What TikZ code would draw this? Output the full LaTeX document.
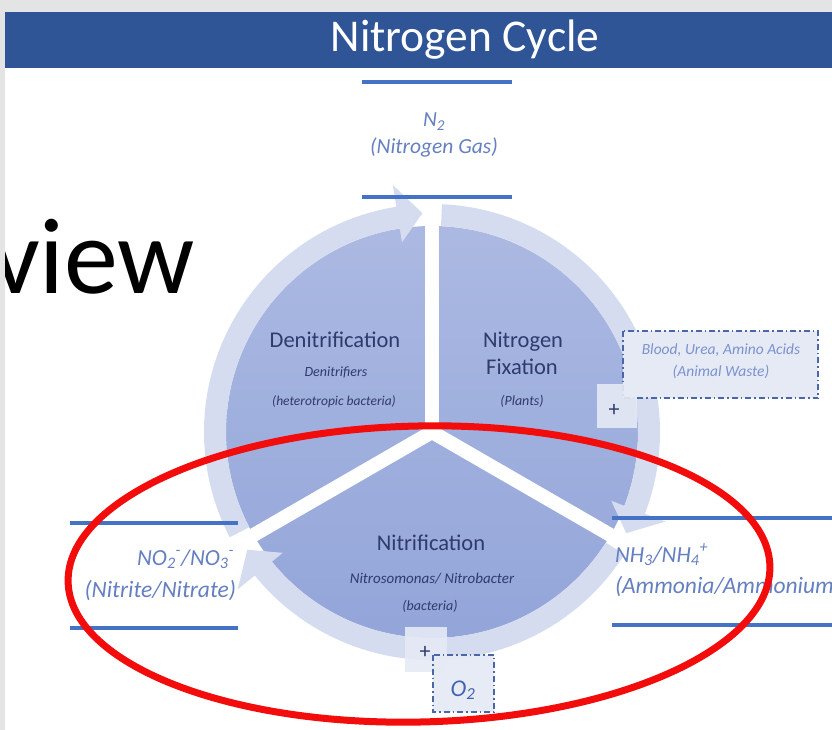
\documentclass[tikz,border=0pt]{standalone}
\usepackage{fontspec}
\setmainfont{Carlito}
\usetikzlibrary{calc}
\definecolor{titleblue}{HTML}{2F5597}
\definecolor{bggray}{HTML}{E4E4E4}
\definecolor{linecol}{HTML}{4472C4}
\definecolor{labelcol}{HTML}{6580C0}
\definecolor{pietext}{HTML}{2E3B6B}
\definecolor{pietop}{HTML}{ABB9E2}
\definecolor{piebot}{HTML}{93A5D9}
\definecolor{ringcol}{HTML}{D5DCF0}
\definecolor{boxfill}{HTML}{E6EAF5}
\definecolor{boxline}{HTML}{4A66A8}
\definecolor{bloodtext}{HTML}{7A92CF}
\definecolor{otwotext}{HTML}{4263B0}
\definecolor{ellred}{HTML}{F20C0C}
\newcommand\myfs[1]{\fontsize{#1}{#1}\selectfont}
\tikzset{
  lbl/.style={anchor=base, inner sep=0pt, outer sep=0pt},
  rule/.style={draw=linecol, line width=4},
  pietitle/.style={lbl, text=pietext, font=\myfs{22.5}},
  piesub/.style={lbl, text=pietext, font=\myfs{14}\itshape},
  chem/.style={lbl, text=labelcol, font=\myfs{21.5}\itshape},
  dashbox/.style={draw=boxline, line width=1.4, fill=boxfill, dash pattern=on 6pt off 3pt on 1.5pt off 3pt},
  plusbox/.style={fill=boxfill, fill opacity=0.9},
}
\begin{document}
\begin{tikzpicture}[x=1pt,y=-1pt]
\useasboundingbox (0,0) rectangle (832,730);
\clip (0,0) rectangle (832,730);
\fill[white] (0,0) rectangle (832,730);
% big partial word
\node[lbl, anchor=base east, font=\myfs{108}] (view) at (195,293) {view};
% slide edges and title bar
\fill[bggray] (0,0) rectangle (832,12);
\fill[bggray] (0,0) rectangle (5,730);
\fill[titleblue] (5,12) rectangle (832,68);
\node[lbl, text=white, font=\myfs{45.5}] (title) at (465,52) {Nitrogen Cycle};

% pie
\coordinate (C) at (432,432);
\shade[top color=pietop, bottom color=piebot] (C) circle[radius=206];
\foreach \t in {-90,30,150} {
  \draw[white, line width=14] (C) -- ($(C)+(\t:233)$);
}
% circular arrows (clockwise)
\foreach \a in {0,120,240} {
  \fill[ringcol] ($(C)+(152.5+\a:228)$) arc[start angle=152.5+\a, end angle=261+\a, radius=228]
    -- ($(C)+(261+\a:250)$) -- ($(C)+(267.5+\a:219)$) -- ($(C)+(261+\a:192)$)
    -- ($(C)+(261+\a:206)$) arc[start angle=261+\a, end angle=152.5+\a, radius=206] -- cycle;
}

% pie texts
\node[pietitle] (den) at (335,347) {Denitrification};
\node[piesub] (denb) at (336,376) {Denitrifiers};
\node[piesub, font=\myfs{13.5}\itshape] (denc) at (334,405) {(heterotropic bacteria)};
\node[pietitle] (fixa) at (523,347) {Nitrogen};
\node[pietitle] (fixb) at (522,374) {Fixation};
\node[piesub] (fixc) at (522,405) {(Plants)};
\node[pietitle] (nit) at (431,550) {Nitrification};
\node[piesub, font=\myfs{15}\itshape] (nitb) at (432,583) {Nitrosomonas/ Nitrobacter};
\node[piesub] (nitc) at (430,610) {(bacteria)};

% N2 label
\draw[rule] (362,82) -- (512,82);
\draw[rule] (362,197) -- (512,197);
\node[chem] (ntwo) at (434,127) {N\textsubscript{2}};
\node[chem] (ntwob) at (434,154) {(Nitrogen Gas)};

% NO2/NO3 label
\draw[rule] (70,523) -- (238,523);
\draw[rule] (70,628) -- (238,628);
\node[chem, anchor=base east, font=\myfs{23}\itshape] (no) at (234,565) {NO\textsubscript{2}\textsuperscript{-}/NO\textsubscript{3}\textsuperscript{-}};
\node[chem, anchor=base east, font=\myfs{23.5}\itshape] (nob) at (236,597) {(Nitrite/Nitrate)};

% NH3/NH4 label
\draw[rule] (612,518) -- (832,518);
\draw[rule] (612,625) -- (832,625);
\node[chem, anchor=base west, font=\myfs{23}\itshape] (nh) at (615,562) {NH\textsubscript{3}/NH\textsubscript{4}\textsuperscript{+}};
\node[chem, anchor=base west, font=\myfs{23.5}\itshape] (nhb) at (615,593) {(Ammonia/Ammonium};

% animal waste box
\draw[dashbox] (623,331) rectangle (818,398);
\node[lbl, text=bloodtext, font=\myfs{15.5}\itshape] (blood) at (721,354) {Blood, Urea, Amino Acids};
\node[lbl, text=bloodtext, font=\myfs{15.5}\itshape] (bloodb) at (721,376) {(Animal Waste)};
\fill[plusbox] (597,384) rectangle (637,428);
\node[lbl, text=pietext, font=\myfs{22}] (plusa) at (614,416) {+};

% O2 box
\fill[plusbox] (405,627) rectangle (447,672);
\node[lbl, text=pietext, font=\myfs{22}] (plusb) at (425,658) {+};
\draw[dashbox, fill opacity=0.95] (433,655) rectangle (494,712);
\node[lbl, text=otwotext, font=\myfs{24}\itshape] (otwo) at (463,696) {O\textsubscript{2}};

% red highlight ellipse
\draw[ellred, line width=7, rotate around={1.3:(419,574)}] (419,574) ellipse [x radius=351, y radius=148];
\end{tikzpicture}
\end{document}
